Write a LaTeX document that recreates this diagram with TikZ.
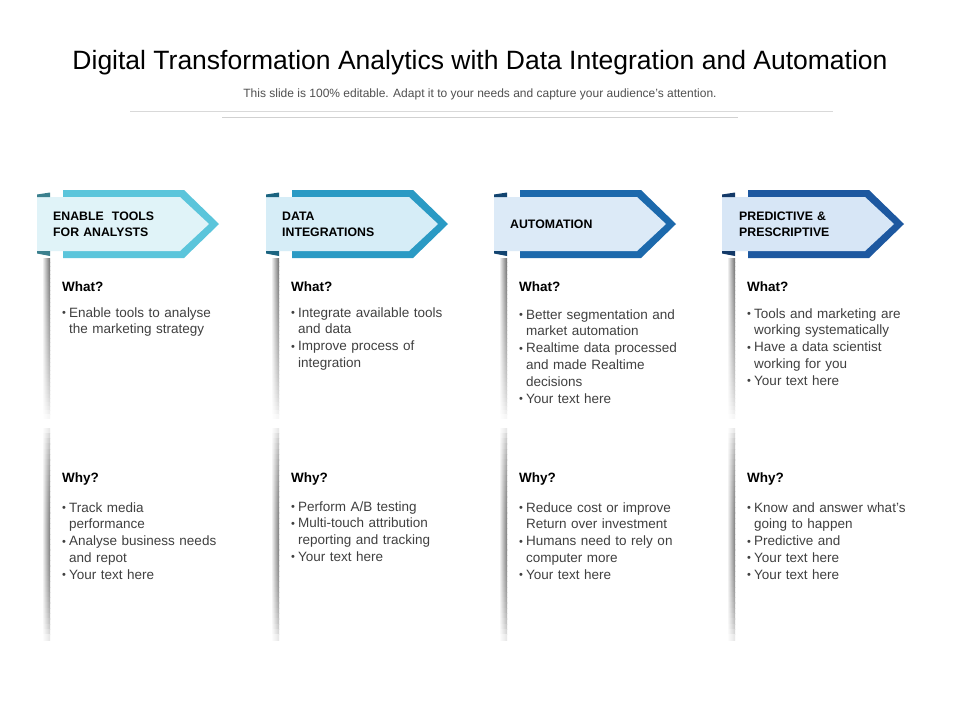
\documentclass[tikz,border=0pt]{standalone}
\usepackage{fontspec}
\setmainfont{Liberation Sans}
\definecolor{mainA}{HTML}{5BC5DB}\definecolor{lightA}{HTML}{E0F3F8}
\definecolor{mainB}{HTML}{2A9AC4}\definecolor{lightB}{HTML}{D6EDF7}
\definecolor{mainC}{HTML}{1C69AC}\definecolor{lightC}{HTML}{DCEAF7}
\definecolor{mainD}{HTML}{1D58A0}\definecolor{lightD}{HTML}{D7E6F6}
\definecolor{bodytext}{HTML}{404040}
\definecolor{subtext}{HTML}{505050}
\newcommand\bu{\makebox[7pt][l]{\raisebox{0.5pt}{\fontsize{11}{11}\selectfont •}}}
\newcommand\ct{\hspace*{7pt}}
\newcommand\mkbanner[3]{%
  \begin{scope}[xshift=#1pt]
    \fill[#2] (63,190) -- (184,190) -- (219,224) -- (184,258) -- (63,258) -- cycle;
    \fill[#3] (37,197) -- (180,197) -- (209,224) -- (180,251) -- (37,251) -- cycle;
    \fill[#2!65!black] (37,197) -- (37,194.5) -- (50,192.5) -- (50,197) -- cycle;
    \fill[#2!65!black] (37,251) -- (50,251) -- (50,256) -- (37,253.5) -- cycle;
    \foreach \k in {0,...,39}{%
      \pgfmathsetmacro\ya{258+\k*4}
      \pgfmathsetmacro\yb{\ya+4.2}
      \pgfmathsetmacro\p{58*(1-(\k+0.5)/40)^0.6}
      \shade[left color=white, right color=black!\p] (42,\ya) rectangle (50,\yb);
      \pgfmathsetmacro\yc{428+\k*5.3}
      \pgfmathsetmacro\yd{\yc+5.5}
      \pgfmathsetmacro\q{52*(sin(180*(\k+0.5)/40))^0.5}
      \shade[left color=white, right color=black!\q] (42,\yc) rectangle (50,\yd);
    }
  \end{scope}}
\begin{document}
\begin{tikzpicture}[x=1pt,y=-1pt,
  titletext/.style={font=\fontsize{26.5}{30}\selectfont, text=black, inner sep=0, anchor=base},
  subtitle/.style={font=\fontsize{12}{14}\selectfont, text=subtext, inner sep=0, anchor=base},
  hdr/.style={font=\fontsize{12.3}{16}\selectfont\bfseries, text=black, inner sep=0, anchor=north west, align=left, text width=150pt},
  qlabel/.style={font=\fontsize{13.5}{16}\selectfont\bfseries, text=black, inner sep=0, anchor=base west},
  bodyblock/.style={font=\fontsize{13.5}{16.8}\selectfont, text=bodytext, inner sep=0, anchor=north west, align=left, text width=200pt},
  rulegray/.style={draw=#1, line width=0.8pt}]
\fill[white] (0,0) rectangle (960,720);
\useasboundingbox (0,0) rectangle (960,720);

\node[titletext] (title) at (480,69) {Digital Transformation Analytics with Data Integration and Automation};
\node[subtitle] (sub) at (480,97.5) {This slide is 100\% editable. Adapt it to your needs and capture your audience's attention.};
\coordinate (l1a) at (130,111); \coordinate (l1b) at (833,111);
\coordinate (l2a) at (222,117); \coordinate (l2b) at (738,117);
\draw[rulegray=black!15] (l1a) -- (l1b);
\draw[rulegray=black!18] (l2a) -- (l2b);

\mkbanner{0}{mainA}{lightA}
\mkbanner{229}{mainB}{lightB}
\mkbanner{457}{mainC}{lightC}
\mkbanner{685}{mainD}{lightD}

% headers
\node[hdr] (h1) at (53,209.1) {\strut ENABLE\ \ TOOLS\\FOR ANALYSTS};
\node[hdr] (h2) at (282,209.1) {\strut DATA\\INTEGRATIONS};
\node[hdr] (h3) at (510,217.1) {\strut AUTOMATION};
\node[hdr] (h4) at (739,209.1) {\strut PREDICTIVE \&\\PRESCRIPTIVE};

% What labels
\node[qlabel] (q1) at (62,291.8) {What?};
\node[qlabel] (q2) at (291,291.8) {What?};
\node[qlabel] (q3) at (519,291.8) {What?};
\node[qlabel] (q4) at (747,291.8) {What?};
% Why labels
\node[qlabel] (r1) at (62,482.8) {Why?};
\node[qlabel] (r2) at (291,482.8) {Why?};
\node[qlabel] (r3) at (519,482.8) {Why?};
\node[qlabel] (r4) at (747,482.8) {Why?};

% What bodies
\node[bodyblock] (wb1) at (62,305.1) {\strut\bu Enable tools to analyse\\\ct the marketing strategy};
\node[bodyblock] (wb2) at (291,305.1) {\strut\bu Integrate available tools\\\ct and data\\\bu Improve process of\\\ct integration};
\node[bodyblock] (wb3) at (519,307.1) {\strut\bu Better segmentation and\\\ct market automation\\\bu Realtime data processed\\\ct and made Realtime\\\ct decisions\\\bu Your text here};
\node[bodyblock] (wb4) at (747,306.1) {\strut\bu Tools and marketing are\\\ct working systematically\\\bu Have a data scientist\\\ct working for you\\\bu Your text here};

% Why bodies
\node[bodyblock] (yb1) at (62,500.1) {\strut\bu Track media\\\ct performance\\\bu Analyse business needs\\\ct and repot\\\bu Your text here};
\node[bodyblock] (yb2) at (291,499.1) {\strut\bu Perform A/B testing\\\bu Multi-touch attribution\\\ct reporting and tracking\\\bu Your text here};
\node[bodyblock] (yb3) at (519,500.1) {\strut\bu Reduce cost or improve\\\ct Return over investment\\\bu Humans need to rely on\\\ct computer more\\\bu Your text here};
\node[bodyblock] (yb4) at (747,500.1) {\strut\bu Know and answer what's\\\ct going to happen\\\bu Predictive and\\\bu Your text here\\\bu Your text here};
\end{tikzpicture}
\end{document}
